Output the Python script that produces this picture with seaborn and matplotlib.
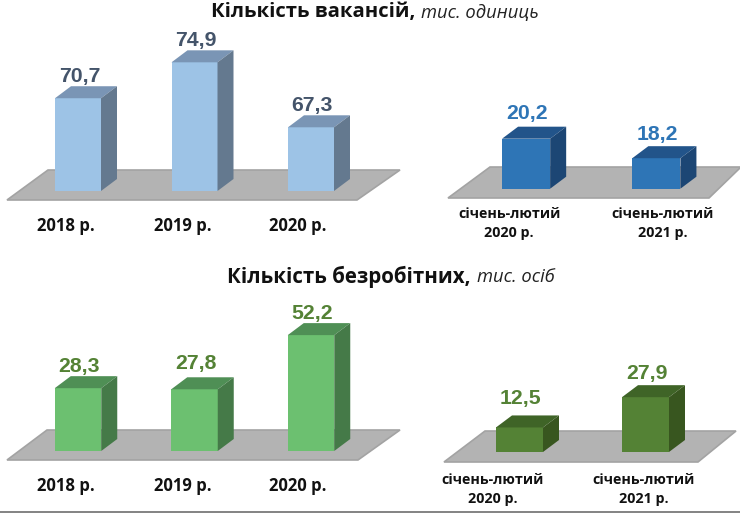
import matplotlib
matplotlib.use("Agg")
import matplotlib.pyplot as plt
from matplotlib.patches import Polygon
from matplotlib.transforms import IdentityTransform, ScaledTranslation
import seaborn as sns
import pandas as pd

# --- data -------------------------------------------------------------
years = ["2018 р.", "2019 р.", "2020 р."]
months = ["січень-лютий\n2020 р.", "січень-лютий\n2021 р."]
vacancies_year = [70.7, 74.9, 67.3]
vacancies_month = [20.2, 18.2]
unemployed_year = [28.3, 27.8, 52.2]
unemployed_month = [12.5, 27.9]

W, H = 740, 513
sns.set_theme(style="white")
fig = plt.figure(figsize=(W / 100, H / 100), dpi=100, facecolor="white")

VAL_FONT = "Liberation Sans"
TXT_FONT = "Open Sans"
DX, DY = 16, 12


def px_axes(x0, x1, ytop, ybot, **kw):
    return fig.add_axes([x0 / W, 1 - ybot / H, (x1 - x0) / W, (ybot - ytop) / H], **kw)


# background layer: floors, titles, bottom rule
bg = fig.add_axes([0, 0, 1, 1], zorder=0)
bg.set_xlim(0, W)
bg.set_ylim(H, 0)
bg.axis("off")


def floor(xfl, xfr, yf, xbl, xbr, yb):
    bg.add_patch(Polygon([(xfl, yf), (xfr, yf), (xbr, yb), (xbl, yb)], closed=True,
                         facecolor="#B3B3B3", edgecolor="#A3A3A3", linewidth=1.2))


floor(7, 357, 200, 48, 400, 170)
floor(448, 709, 198, 490, 741, 167)
floor(7, 358, 460, 47, 400, 430)
floor(444, 698, 462, 485, 736, 431)
bg.plot([0, W], [512.3, 512.3], color="#6E6E6E", lw=1.2)

bg.text(211, 12.5, "Кількість вакансій,", fontsize=14.6, fontweight="bold", family=TXT_FONT,
        color="#111111", ha="left", va="center")
bg.text(421, 13, "тис. одиниць", fontsize=13.2, style="italic", family=TXT_FONT,
        color="#222222", ha="left", va="center")
bg.text(227, 276.5, "Кількість безробітних,", fontsize=14.8, fontweight="bold", family=TXT_FONT,
        color="#111111", ha="left", va="center")
bg.text(477, 277, "тис. осіб", fontsize=13.2, style="italic", family=TXT_FONT,
        color="#222222", ha="left", va="center")


def panel(box, ylim, labels, values, front, top, side, txt, pad, width, fs, shifts, lift):
    ax = px_axes(*box, zorder=2)
    ax.patch.set_alpha(0)
    df = pd.DataFrame({"k": labels, "v": values})
    sns.barplot(data=df, x="k", y="v", ax=ax, color=front, saturation=1, width=width,
                linewidth=0, order=labels)
    ax.set_ylim(*ylim)
    ax.set_xlim(-0.5, len(labels) - 0.5)
    ax.set_xlabel("")
    ax.set_ylabel("")
    ax.set_yticks([])
    ax.tick_params(axis="x", length=0, pad=pad)
    for s in ax.spines.values():
        s.set_visible(False)
    for t, sh in zip(ax.get_xticklabels(), shifts):
        t.set_fontfamily(TXT_FONT)
        t.set_fontweight("bold")
        t.set_fontsize(fs)
        t.set_color("#111111")
        t.set_linespacing(1.45)
        t.set_transform(t.get_transform() + ScaledTranslation(sh / 100, 0, fig.dpi_scale_trans))
    fig.canvas.draw()
    for bar, val, up in zip(ax.patches, values, lift):
        (x0, y0), (x1, y1) = ax.transData.transform(
            [(bar.get_x(), bar.get_y()),
             (bar.get_x() + bar.get_width(), bar.get_y() + bar.get_height())])
        y0 = ax.transData.transform((0, ylim[0]))[1]
        ax.add_patch(Polygon([(x1, y1), (x1 + DX, y1 + DY), (x0 + DX, y1 + DY), (x0, y1)],
                             closed=True, facecolor=top, edgecolor="none",
                             transform=IdentityTransform(), clip_on=False))
        ax.add_patch(Polygon([(x1, y0), (x1 + DX, y0 + DY), (x1 + DX, y1 + DY), (x1, y1)],
                             closed=True, facecolor=side, edgecolor="none",
                             transform=IdentityTransform(), clip_on=False))
        ax.annotate(f"{val:.1f}".replace(".", ","),
                    xy=(bar.get_x() + bar.get_width() / 2, val),
                    xytext=(1, DY * 0.72 + 1 + up * 0.72), textcoords="offset points",
                    ha="center", va="bottom", fontsize=15.3, fontweight="bold",
                    family=VAL_FONT, color=txt, annotation_clip=False)
    return ax


# x-range chosen so that category spacing and bar width match the picture
S3 = 116.5
panel((78 - S3 / 2, 311 + S3 / 2, 40, 191), (59.85, 59.85 + 151 / 8.55), years, vacancies_year,
      "#9DC3E6", "#7A95B5", "#64798F", "#44546A", 19, 46 / S3, 12, [-12, -12, -13], [-1, -1, -1])
S2 = 130
panel((526 - S2 / 2, 656.5 + S2 / 2, 100, 188.7), (15.07, 15.07 + 88.7 / 9.75), months, vacancies_month,
      "#2E75B6", "#22548A", "#1C4674", "#2E75B6", 13.4, 48 / S2, 10.3, [-17, 6], [2, 1])
panel((78 - S3 / 2, 311 + S3 / 2, 300, 451), (0, 151 / 2.22), years, unemployed_year,
      "#6CC070", "#4F8F55", "#457A48", "#548235", 19, 46.5 / S3, 12, [-12, -12, -13], [-1, 3, -1])
S4 = 126
panel((519.5 - S4 / 2, 645.5 + S4 / 2, 370, 452), (0, 82 / 1.965), months, unemployed_month,
      "#548235", "#3F6427", "#38561F", "#548235", 15, 47 / S4, 10.3, [-27, -1.5], [6, 1])

fig.savefig("out.png", dpi=100)
